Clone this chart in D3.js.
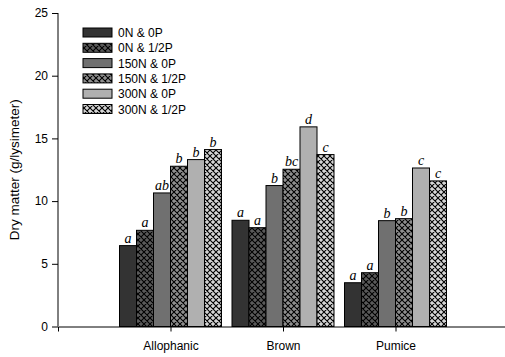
<!DOCTYPE html>
<html><head><meta charset="utf-8">
<script src="https://cdn.jsdelivr.net/npm/d3@7"></script>
<style>body{margin:0;background:#fff}</style>
</head><body>
<svg id="c" width="505" height="357"></svg>
<script>
const categories = ["Allophanic", "Brown", "Pumice"];
const treatments = ["0N & 0P", "0N & 1/2P", "150N & 0P", "150N & 1/2P", "300N & 0P", "300N & 1/2P"];
const values = [
  [6.45, 8.47, 3.49],
  [7.67, 7.88, 4.29],
  [10.65, 11.24, 8.44],
  [12.78, 12.54, 8.60],
  [13.31, 15.92, 12.64],
  [14.11, 13.71, 11.61]
];
const letters = [
  ["a", "a", "a"],
  ["a", "a", "a"],
  ["ab", "b", "b"],
  ["b", "bc", "b"],
  ["b", "d", "c"],
  ["b", "c", "c"]
];
const yTicks = [0, 5, 10, 15, 20, 25];
const fills = ["#333333", "#5a5a5a", "#707070", "#8f8f8f", "#b0b0b0", "#d6d6d6"];
const hatched = [false, true, false, true, false, true];

const svg = d3.select("#c");
const defs = svg.append("defs");
treatments.forEach((t, i) => {
  if (!hatched[i]) return;
  const p = defs.append("pattern").attr("id", "h" + i).attr("patternUnits", "userSpaceOnUse")
    .attr("width", 6).attr("height", 6);
  p.append("rect").attr("width", 6).attr("height", 6).attr("fill", fills[i]);
  p.append("path").attr("d", "M0,0L6,6M0,6L6,0M-1,5L1,7M5,-1L7,1M-1,1L1,-1M5,7L7,5")
    .attr("stroke", "#000").attr("stroke-width", 1.1).attr("fill", "none");
});
const fillOf = i => hatched[i] ? "url(#h" + i + ")" : fills[i];

const x0 = 58;
const x = d3.scaleLinear().domain([0, 4]).range([x0, x0 + 450]);
const y = d3.scaleLinear().domain([0, 25]).range([326.5, 13]);
const barW = 17;
const sans = "Arial, Liberation Sans, sans-serif";

// axes
const yAxis = svg.append("g").attr("transform", `translate(${x0},0)`)
  .call(d3.axisLeft(y).tickValues(yTicks).tickSize(6).tickPadding(4));
yAxis.select(".domain").attr("d", `M0,${y(25)}V${y(0)}`);
yAxis.selectAll("text").attr("font-family", sans).attr("font-size", 12).attr("fill", "#000");

const xAxis = svg.append("g").attr("transform", `translate(0,${y(0)})`)
  .call(d3.axisBottom(x).tickValues([1, 2, 3]).tickFormat(d => categories[d - 1]).tickSize(5).tickPadding(10));
xAxis.selectAll("text").attr("font-family", sans).attr("font-size", 12).attr("fill", "#000");

// bars
categories.forEach((c, ci) => {
  const cx = x(ci + 1);
  treatments.forEach((t, ti) => {
    const v = values[ti][ci];
    const bx = cx + (ti - 3) * barW;
    svg.append("rect").attr("x", bx).attr("y", y(v)).attr("width", barW).attr("height", y(0) - y(v))
      .attr("fill", fillOf(ti)).attr("stroke", "#000").attr("stroke-width", 1);
    svg.append("text").attr("x", bx + barW / 2).attr("y", y(v) - 3).attr("text-anchor", "middle")
      .attr("font-family", "Liberation Serif, Times New Roman, serif").attr("font-style", "italic")
      .attr("font-size", 14).text(letters[ti][ci]);
  });
});

// legend
const lg = svg.append("g");
treatments.forEach((t, i) => {
  const ly = 28 + i * 15.3;
  lg.append("rect").attr("x", 83).attr("y", ly).attr("width", 29).attr("height", 9)
    .attr("fill", fillOf(i)).attr("stroke", "#000").attr("stroke-width", 1);
  lg.append("text").attr("x", 118).attr("y", ly + 9).attr("font-family", sans)
    .attr("font-size", 12).text(t);
});

// y label
svg.append("text").attr("transform", `translate(19,${(y(0) + y(25)) / 2}) rotate(-90)`)
  .attr("text-anchor", "middle").attr("font-family", sans).attr("font-size", 13.5)
  .text("Dry matter (g/lysimeter)");
</script>
</body></html>
